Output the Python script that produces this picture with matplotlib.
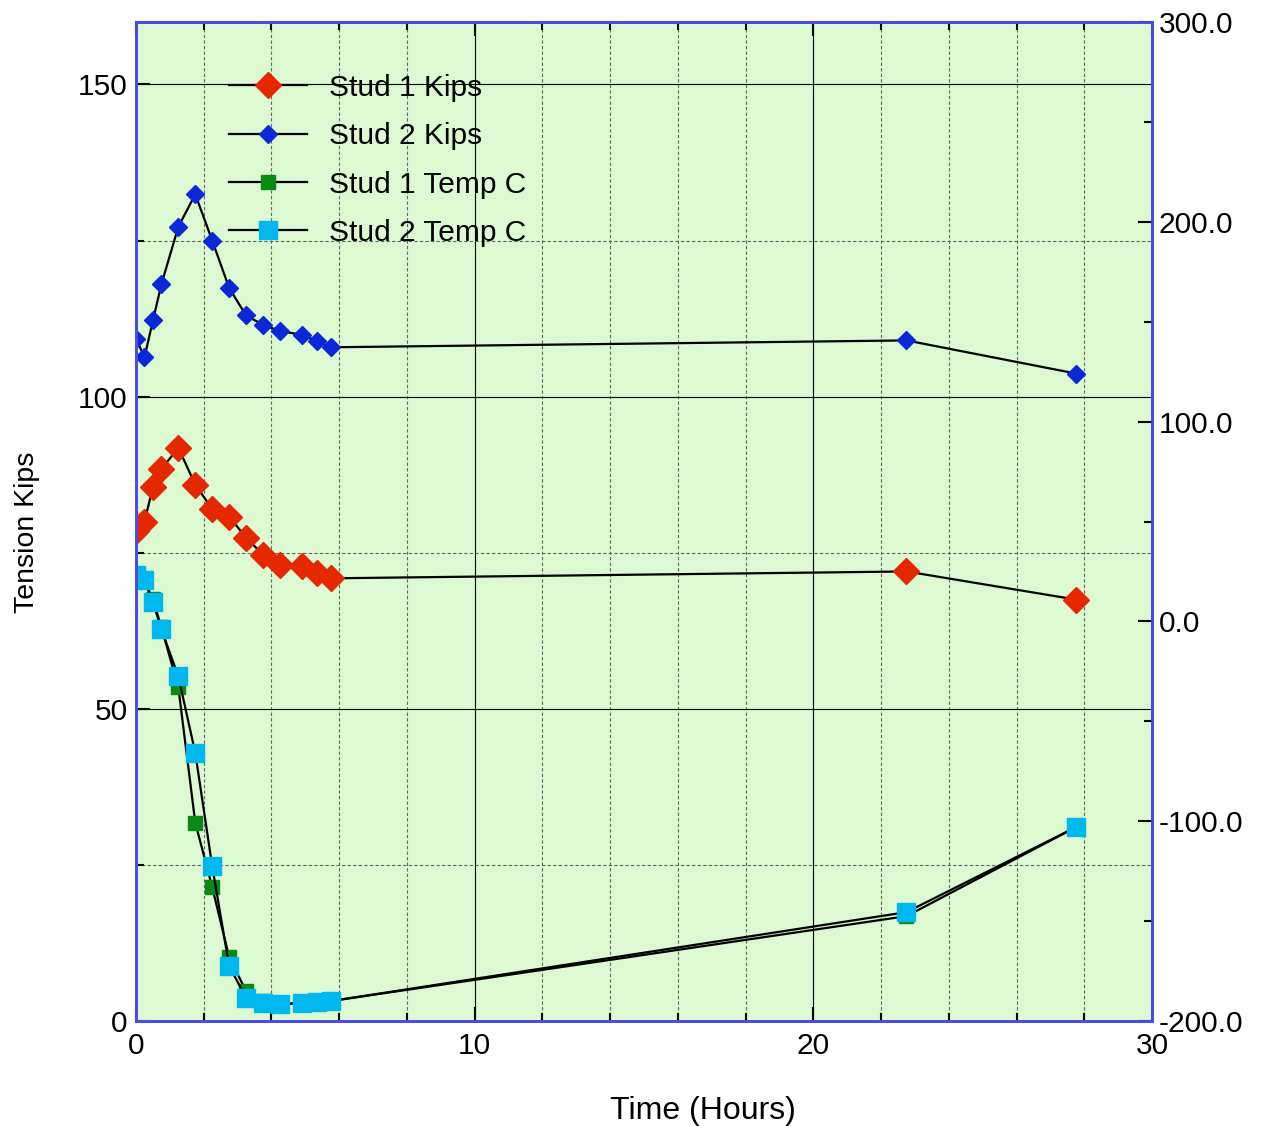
import matplotlib
matplotlib.use("Agg")
import matplotlib.pyplot as plt
from matplotlib.ticker import MultipleLocator, FormatStrFormatter

plt.rcParams['font.family'] = ['Liberation Sans', 'DejaVu Sans']

# data
hours = [0, 0.25, 0.5, 0.75, 1.25, 1.75, 2.25, 2.75, 3.25, 3.75, 4.25, 4.9, 5.33, 5.75, 22.75, 27.75]
stud1_kips = [78.5, 80.0, 85.5, 88.4, 91.8, 85.9, 82.0, 80.8, 77.4, 74.7, 73.0, 72.8, 71.7, 70.9, 72.0, 67.5]
stud2_kips = [109.3, 106.3, 112.2, 118.0, 127.2, 132.4, 125.0, 117.4, 113.0, 111.5, 110.5, 109.9, 108.9, 107.9, 109.0, 103.7]
stud1_temp = [23, 20, 11, -3, -33, -100.7, -133, -168, -185, -190, -191.5, -191, -190.5, -190, -147.5, -103]
stud2_temp = [23, 20.5, 9.7, -4, -27.5, -65.8, -122.5, -172.5, -188.3, -190.8, -191.7, -190.8, -190.3, -190, -145.5, -103]

spine_col = "#4a4ae8"
bg = "#dcf9d2"

fig = plt.figure(figsize=(12.64, 11.26), dpi=100)
ax = fig.add_axes([0.1076, 0.0932, 0.8038, 0.8873])
ax.set_facecolor(bg)
ax2 = ax.twinx()

l1, = ax.plot(hours, stud1_kips, color="black", lw=1.6, marker="D", ms=13.5,
              mfc="#e52800", mec="#e52800", label="Stud 1 Kips")
l2, = ax.plot(hours, stud2_kips, color="black", lw=1.6, marker="D", ms=8.8,
              mfc="#0a28d8", mec="#0a28d8", label="Stud 2 Kips")
l3, = ax2.plot(hours, stud1_temp, color="black", lw=1.6, marker="s", ms=9.4,
               mfc="#0a8a14", mec="#0a8a14", label="Stud 1 Temp C")
l4, = ax2.plot(hours, stud2_temp, color="black", lw=1.6, marker="s", ms=13.4,
               mfc="#00b8ee", mec="#00b8ee", label="Stud 2 Temp C")

ax.set_xlim(0, 30)
ax.set_ylim(0, 160)
ax2.set_ylim(-200, 300)

ax.xaxis.set_major_locator(MultipleLocator(10))
ax.xaxis.set_minor_locator(MultipleLocator(2))
ax.yaxis.set_major_locator(MultipleLocator(50))
ax.yaxis.set_minor_locator(MultipleLocator(25))
ax2.yaxis.set_major_locator(MultipleLocator(100))
ax2.yaxis.set_minor_locator(MultipleLocator(50))
ax2.yaxis.set_major_formatter(FormatStrFormatter("%.1f"))

ax.grid(which="major", color="black", lw=0.8)
ax.grid(which="minor", color="#666666", lw=0.8, ls=(0, (3, 2)))
ax.set_axisbelow(True)

ax.tick_params(which="both", direction="in", top=True, right=False, labelsize=21.5, width=1.5)
ax.tick_params(axis="y", pad=6)
ax.tick_params(axis="x", pad=8)
ax.tick_params(which="major", length=10)
ax.tick_params(which="minor", length=6)
ax2.tick_params(which="both", direction="in", labelsize=21.5, width=1.5, pad=5)
ax2.tick_params(which="major", length=10)
ax2.tick_params(which="minor", length=6)

for a in (ax, ax2):
    for s in a.spines.values():
        s.set_color(spine_col)
        s.set_linewidth(2)

fig.text(0.556, 0.0135, "Time (Hours)", ha="center", va="center", fontsize=23)
fig.text(0.021, 0.5275, "Tension Kips", ha="center", va="center", rotation=90, fontsize=20.5)

leg = ax2.legend(handles=[l1, l2, l3, l4], loc="upper left", bbox_to_anchor=(0.0915, 0.948),
                 frameon=False, fontsize=21.5, handlelength=2.6, handletextpad=0.75,
                 labelspacing=0.68, borderpad=0, borderaxespad=0)

fig.savefig("out.png", dpi=100)
